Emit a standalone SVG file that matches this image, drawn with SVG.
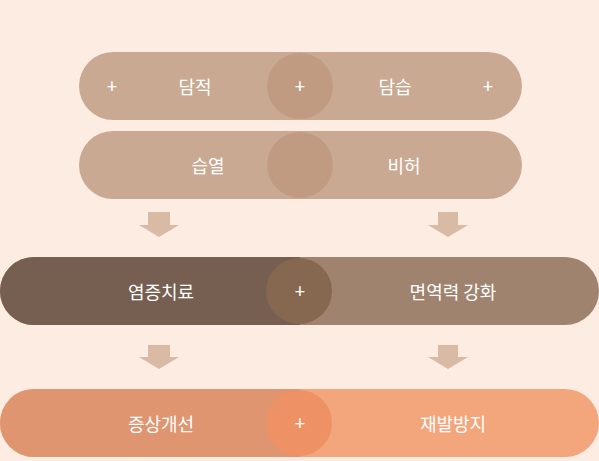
<svg xmlns="http://www.w3.org/2000/svg" width="599" height="461" viewBox="0 0 599 461">
<style>
.lbl{font-family:"Noto Sans CJK KR","Noto Sans",sans-serif;font-size:18px;fill:#ffffff;text-anchor:middle;dominant-baseline:central}
.plus{font-family:"Noto Sans","DejaVu Sans",sans-serif;font-size:19px;fill:#ffffff;text-anchor:middle;dominant-baseline:central}
.arrow{fill:#d9baa4}
</style>
<rect width="599" height="461" fill="#fdece2"/>
<g id="row1">
<rect x="79" y="52" width="443" height="68" rx="34" fill="#caa993"/>
<circle cx="300" cy="86" r="33" fill="#c09b82"/>
<text class="plus" x="112" y="86">+</text>
<text class="lbl" x="195" y="86">담적</text>
<text class="plus" x="300" y="86">+</text>
<text class="lbl" x="395" y="86">담습</text>
<text class="plus" x="488" y="86">+</text>
</g>
<g id="row2">
<rect x="79" y="131" width="443" height="68" rx="34" fill="#caa993"/>
<circle cx="300" cy="165" r="33" fill="#c09b82"/>
<text class="lbl" x="208" y="165">습열</text>
<text class="lbl" x="404" y="165">비허</text>
</g>
<g id="connectors">
<polygon class="arrow" points="148,212 170,212 170,225 179,225 159,237 139,225 148,225"/>
<polygon class="arrow" points="438,212 458,212 458,225 468,225 448,237 428,225 438,225"/>
<polygon class="arrow" points="148,345 170,345 170,357 179,357 159,369 139,357 148,357"/>
<polygon class="arrow" points="438,345 458,345 458,357 468,357 448,369 428,357 438,357"/>
</g>
<g id="row3">
<rect x="0" y="257" width="599" height="68" rx="34" fill="#9f836e"/>
<path d="M34,257 H300 V325 H34 A34,34 0 0 1 34,257 Z" fill="#765f50"/>
<circle cx="299" cy="291" r="33" fill="#866850"/>
<text class="lbl" x="161" y="291">염증치료</text>
<text class="plus" x="300" y="291">+</text>
<text class="lbl" x="453" y="291">면역력 강화</text>
</g>
<g id="row4">
<rect x="0" y="389" width="599" height="68" rx="34" fill="#f3a57c"/>
<path d="M34,389 H300 V457 H34 A34,34 0 0 1 34,389 Z" fill="#df9670"/>
<circle cx="299" cy="423" r="33" fill="#ee9165"/>
<text class="lbl" x="161" y="423">증상개선</text>
<text class="plus" x="300" y="423">+</text>
<text class="lbl" x="453" y="423">재발방지</text>
</g>
</svg>
